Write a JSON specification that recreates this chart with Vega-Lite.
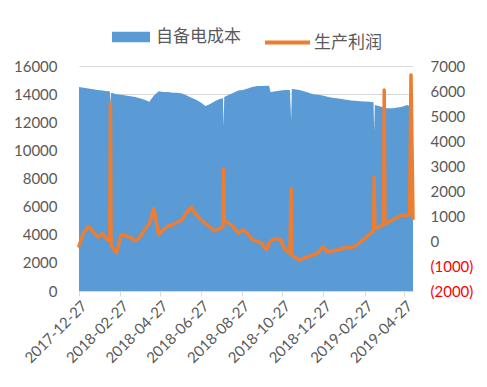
{
  "$schema": "https://vega.github.io/schema/vega-lite/v6.json",
  "width": 334,
  "height": 225,
  "autosize": "none",
  "padding": {"left": 79, "top": 66, "right": 74, "bottom": 96},
  "background": "white",
  "config": {"view": {"stroke": null}, "font": "Lato"},
  "data": {"values": [
    {"d": "2017-12-27", "c": 14500, "p": -200},
    {"d": "2018-01-03", "c": 14450, "p": 350},
    {"d": "2018-01-10", "c": 14400, "p": 580},
    {"d": "2018-01-17", "c": 14350, "p": 380},
    {"d": "2018-01-24", "c": 14300, "p": 150},
    {"d": "2018-01-31", "c": 14250, "p": 300},
    {"d": "2018-02-07", "c": 14200, "p": 50},
    {"d": "2018-02-11", "c": 14200, "p": 0},
    {"d": "2018-02-12", "c": 13400, "p": 5500},
    {"d": "2018-02-13", "c": 14100, "p": -200},
    {"d": "2018-02-21", "c": 14000, "p": -470},
    {"d": "2018-02-28", "c": 13950, "p": 250},
    {"d": "2018-03-07", "c": 13900, "p": 200},
    {"d": "2018-03-14", "c": 13850, "p": 150},
    {"d": "2018-03-21", "c": 13800, "p": 0},
    {"d": "2018-03-28", "c": 13700, "p": 150},
    {"d": "2018-04-04", "c": 13600, "p": 450},
    {"d": "2018-04-11", "c": 13450, "p": 700},
    {"d": "2018-04-18", "c": 13900, "p": 1300},
    {"d": "2018-04-25", "c": 14200, "p": 250},
    {"d": "2018-05-02", "c": 14150, "p": 450},
    {"d": "2018-05-09", "c": 14150, "p": 600},
    {"d": "2018-05-16", "c": 14100, "p": 650},
    {"d": "2018-05-23", "c": 14100, "p": 750},
    {"d": "2018-05-30", "c": 14050, "p": 850},
    {"d": "2018-06-06", "c": 13900, "p": 1150},
    {"d": "2018-06-13", "c": 13750, "p": 1350},
    {"d": "2018-06-20", "c": 13600, "p": 1050},
    {"d": "2018-06-27", "c": 13400, "p": 850},
    {"d": "2018-07-04", "c": 13150, "p": 700},
    {"d": "2018-07-11", "c": 13300, "p": 550},
    {"d": "2018-07-18", "c": 13500, "p": 400},
    {"d": "2018-07-25", "c": 13650, "p": 500},
    {"d": "2018-07-30", "c": 13700, "p": 550},
    {"d": "2018-07-31", "c": 11700, "p": 2900},
    {"d": "2018-08-01", "c": 13800, "p": 800},
    {"d": "2018-08-08", "c": 13950, "p": 700},
    {"d": "2018-08-15", "c": 14100, "p": 550},
    {"d": "2018-08-22", "c": 14250, "p": 300},
    {"d": "2018-08-29", "c": 14300, "p": 450},
    {"d": "2018-09-05", "c": 14400, "p": 300},
    {"d": "2018-09-12", "c": 14500, "p": 50},
    {"d": "2018-09-19", "c": 14580, "p": 0},
    {"d": "2018-09-26", "c": 14580, "p": -100},
    {"d": "2018-10-03", "c": 14600, "p": -350},
    {"d": "2018-10-07", "c": 14600, "p": -100},
    {"d": "2018-10-09", "c": 14150, "p": 0},
    {"d": "2018-10-17", "c": 14200, "p": 100},
    {"d": "2018-10-24", "c": 14250, "p": 50},
    {"d": "2018-10-31", "c": 14300, "p": -350},
    {"d": "2018-11-07", "c": 14300, "p": -480},
    {"d": "2018-11-09", "c": 12160, "p": 2100},
    {"d": "2018-11-10", "c": 14370, "p": -560},
    {"d": "2018-11-14", "c": 14350, "p": -650},
    {"d": "2018-11-21", "c": 14300, "p": -760},
    {"d": "2018-11-28", "c": 14200, "p": -680},
    {"d": "2018-12-05", "c": 14100, "p": -630},
    {"d": "2018-12-12", "c": 14000, "p": -560},
    {"d": "2018-12-19", "c": 13950, "p": -480},
    {"d": "2018-12-26", "c": 13900, "p": -230},
    {"d": "2019-01-02", "c": 13820, "p": -430},
    {"d": "2019-01-09", "c": 13750, "p": -400},
    {"d": "2019-01-16", "c": 13700, "p": -360},
    {"d": "2019-01-23", "c": 13650, "p": -320},
    {"d": "2019-01-30", "c": 13600, "p": -250},
    {"d": "2019-02-06", "c": 13550, "p": -280},
    {"d": "2019-02-13", "c": 13530, "p": -200},
    {"d": "2019-02-20", "c": 13500, "p": -50},
    {"d": "2019-02-27", "c": 13470, "p": 100},
    {"d": "2019-03-06", "c": 13450, "p": 280},
    {"d": "2019-03-12", "c": 13420, "p": 400},
    {"d": "2019-03-13", "c": 11350, "p": 2570},
    {"d": "2019-03-14", "c": 13230, "p": 500},
    {"d": "2019-03-20", "c": 13150, "p": 550},
    {"d": "2019-03-27", "c": 13050, "p": 650},
    {"d": "2019-03-28", "c": 13000, "p": 6040},
    {"d": "2019-03-29", "c": 13000, "p": 700},
    {"d": "2019-04-03", "c": 13000, "p": 750},
    {"d": "2019-04-10", "c": 13000, "p": 850},
    {"d": "2019-04-17", "c": 13050, "p": 950},
    {"d": "2019-04-24", "c": 13100, "p": 1050},
    {"d": "2019-05-01", "c": 13230, "p": 1000},
    {"d": "2019-05-05", "c": 13150, "p": 1050},
    {"d": "2019-05-07", "c": 13100, "p": 6640},
    {"d": "2019-05-10", "c": 13100, "p": 900}
  ]},
  "encoding": {
    "x": {
      "field": "d",
      "type": "temporal",
      "scale": {"type": "utc", "domain": [{"year": 2017, "month": 12, "date": 27, "utc": true}, {"year": 2019, "month": 5, "date": 10, "utc": true}]},
      "axis": {
        "title": null,
        "values": [
          {"year": 2017, "month": 12, "date": 27, "utc": true},
          {"year": 2018, "month": 2, "date": 27, "utc": true},
          {"year": 2018, "month": 4, "date": 27, "utc": true},
          {"year": 2018, "month": 6, "date": 27, "utc": true},
          {"year": 2018, "month": 8, "date": 27, "utc": true},
          {"year": 2018, "month": 10, "date": 27, "utc": true},
          {"year": 2018, "month": 12, "date": 27, "utc": true},
          {"year": 2019, "month": 2, "date": 27, "utc": true},
          {"year": 2019, "month": 4, "date": 27, "utc": true}
        ],
        "labelExpr": "utcFormat(datum.value, '%Y-%m-%d')",
        "labelAngle": -45,
        "labelFontSize": 15,
        "labelColor": "#595959",
        "labelPadding": 2,
        "grid": false,
        "domainColor": "#D9D9D9",
        "tickColor": "#D9D9D9",
        "tickSize": 5,
        "labelOverlap": false
      }
    }
  },
  "layer": [
    {
      "mark": {"type": "area", "color": "#5B9BD5"},
      "encoding": {
        "y": {
          "field": "c",
          "type": "quantitative",
          "scale": {"domain": [0, 16000], "nice": false},
          "axis": {
            "orient": "left",
            "title": null,
            "values": [0, 2000, 4000, 6000, 8000, 10000, 12000, 14000, 16000],
            "format": "d",
            "grid": true,
            "gridColor": "#D9D9D9",
            "domain": false,
            "ticks": false,
            "labelPadding": 22,
            "labelFontSize": 15,
            "labelColor": "#595959"
          }
        },
        "fill": {
          "datum": "自备电成本",
          "type": "nominal",
          "scale": {"range": ["#5B9BD5"]},
          "legend": {
            "orient": "none",
            "legendX": 33,
            "legendY": -48,
            "padding": 0,
            "title": null,
            "symbolType": "M-1,-0.28H1V0.28H-1Z",
            "symbolSize": 1444,
            "symbolOpacity": 1,
            "symbolStrokeWidth": 0,
            "labelFont": "Noto Sans CJK SC",
            "labelFontSize": 17,
            "labelColor": "#595959",
            "labelOffset": 6
          }
        }
      }
    },
    {
      "mark": {"type": "line", "strokeWidth": 3.5, "strokeJoin": "round", "strokeCap": "round"},
      "encoding": {
        "y": {
          "field": "p",
          "type": "quantitative",
          "scale": {"domain": [-2000, 7000], "nice": false},
          "axis": {
            "orient": "right",
            "title": null,
            "values": [-2000, -1000, 0, 1000, 2000, 3000, 4000, 5000, 6000, 7000],
            "labelExpr": "datum.value < 0 ? '(' + format(-datum.value, 'd') + ')' : format(datum.value, 'd')",
            "grid": false,
            "domain": false,
            "ticks": false,
            "labelPadding": 17,
            "labelFontSize": 15,
            "labelColor": {"condition": {"test": "datum.value < 0", "value": "#FF0000"}, "value": "#595959"}
          }
        },
        "stroke": {
          "datum": "生产利润",
          "type": "nominal",
          "scale": {"range": ["#ED7D31"]},
          "legend": {
            "orient": "none",
            "legendX": 184,
            "legendY": -48,
            "padding": 0,
            "title": null,
            "symbolType": "stroke",
            "symbolSize": 2025,
            "symbolStrokeWidth": 4,
            "labelFont": "Noto Sans CJK SC",
            "labelFontSize": 17,
            "labelColor": "#595959",
            "labelOffset": 2
          }
        }
      }
    }
  ],
  "resolve": {"scale": {"y": "independent"}}
}
